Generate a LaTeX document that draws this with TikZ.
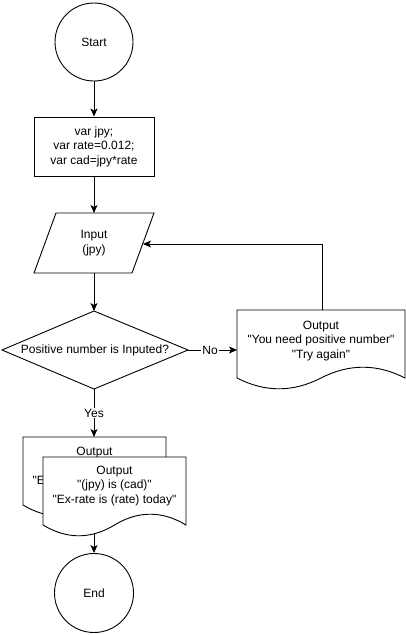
\documentclass[tikz,border=0pt]{standalone}
\usepackage{fontspec}
\setmainfont{Liberation Sans}[Ligatures=TeXOff]
\usetikzlibrary{arrows.meta}
\begin{document}
\begin{tikzpicture}[x=1pt,y=-1pt,
  every node/.style={font=\fontsize{12}{14.5}\selectfont, align=center},
  shp/.style={draw=black, line width=0.9pt, fill=white},
  conn/.style={draw=black, line width=0.9pt, -{Stealth[length=8pt,width=7pt,inset=2pt]}},
  lbl/.style={fill=white, inner sep=1pt},
  txt/.style={inner sep=0pt}]
\useasboundingbox (0,0) rectangle (406,635);
% Start
\node[shp, circle, minimum size=78pt, inner sep=0pt] (start) at (94,42) {Start};
% Init rectangle
\node[shp, rectangle, minimum width=120pt, minimum height=59pt, inner sep=0pt] (init) at (94,146.5) {var jpy;\\var rate=0.012;\\var cad=jpy*rate};
% Input parallelogram
\draw[shp] (56,213) -- (154,213) -- (132,273) -- (34,273) -- cycle;
\node[txt] (input) at (94,243) {Input\\(jpy)};
\coordinate (intop) at (94,213);
\coordinate (inbot) at (94,273);
\coordinate (inright) at (143,244);
% Decision diamond
\draw[shp] (94,311) -- (188,350) -- (94,389) -- (2,350) -- cycle;
\node[txt] (dec) at (95,350) {Positive number is Inputed?};
\coordinate (dtop) at (94,311);
\coordinate (dright) at (188,350);
\coordinate (dbot) at (94,389);
% Right document
\draw[shp] (237,310) -- (405,310) -- (405,378)
  .. controls (377,363.6) and (349,363.6) .. (321,378)
  .. controls (293,392.4) and (265,392.4) .. (237,378) -- cycle;
\node[txt] (err) at (321,341) {Output\\"You need positive number"\\"Try again"};
\coordinate (errleft) at (237,350);
\coordinate (errtop) at (322,310);
% Back document
\draw[shp] (23,437) -- (166,437) -- (166,505)
  .. controls (142.17,490.6) and (118.33,490.6) .. (94.5,505)
  .. controls (70.67,519.4) and (46.83,519.4) .. (23,505) -- cycle;
\node[txt] (outback) at (94.5,467) {Output\\"(jpy) is (cad)"\\"Ex-rate is (rate) today"};
\coordinate (outtop) at (94,437);
% Front document
\draw[shp] (43,457) -- (186,457) -- (186,525)
  .. controls (162.17,510.6) and (138.33,510.6) .. (114.5,525)
  .. controls (90.67,539.4) and (66.83,539.4) .. (43,525) -- cycle;
\node[txt] (out) at (114.5,486) {Output\\"(jpy) is (cad)"\\"Ex-rate is (rate) today"};
\coordinate (outbot) at (94,534);
% End
\node[shp, circle, minimum size=79pt, inner sep=0pt] (end) at (94,593) {End};
% Connectors
\draw[conn] (start) -- (init);
\draw[conn] (init) -- (intop);
\draw[conn] (inbot) -- (dtop);
\draw[conn] (dright) -- node[lbl, pos=0.45] (no) {No} (errleft);
\draw[conn] (errtop) |- (inright);
\draw[conn] (dbot) -- node[lbl, pos=0.5] (yes) {Yes} (outtop);
\draw[conn] (outbot) -- (end);
\end{tikzpicture}
\end{document}
